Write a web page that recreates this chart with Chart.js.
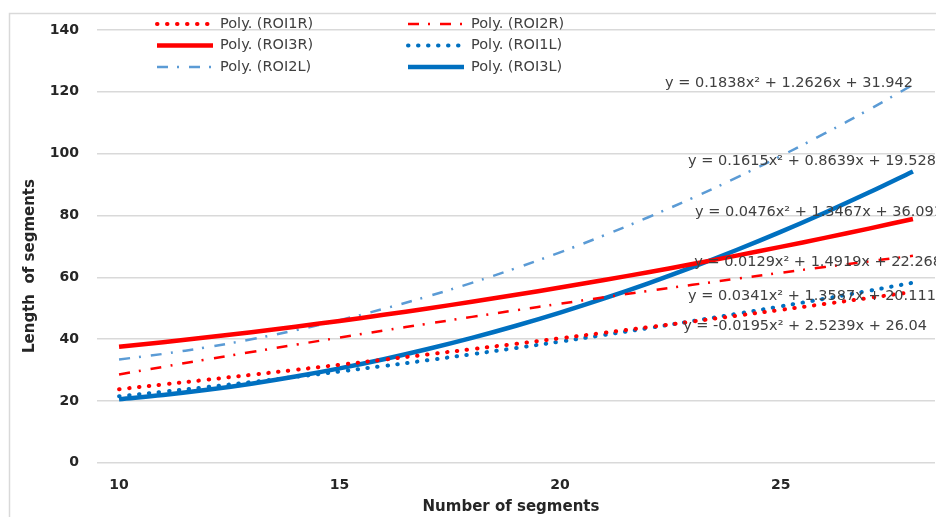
<!DOCTYPE html>
<html>
<head>
<meta charset="utf-8">
<script src="https://cdn.jsdelivr.net/npm/chart.js@4.4.1/dist/chart.umd.min.js"></script>
<style>
    html, body { margin: 0; padding: 0; background: #fff; }
    #contenedor { width: 936px; height: 517px; position: relative; }
</style>
</head>
<body>
<div id="contenedor"><canvas id="graficoSegmentos"></canvas></div>
<script>
// Número de segmentos (eje X) y longitudes de cada línea de tendencia
const segmentos = [10, 11, 12, 13, 14, 15, 16, 17, 18, 19, 20, 21, 22, 23, 24, 25, 26, 27, 28];
const roi1R = [23.77, 25.30, 26.86, 28.44, 30.05, 31.68, 33.34, 35.03, 36.74, 38.48, 40.24, 42.03, 43.84, 45.68, 47.55, 49.44, 51.36, 53.30, 55.27];
const roi2R = [28.54, 31.01, 33.44, 35.82, 38.17, 40.48, 42.75, 44.98, 47.18, 49.33, 51.44, 53.52, 55.56, 57.55, 59.51, 61.43, 63.31, 65.15, 66.95];
const roi3R = [37.49, 38.97, 40.56, 42.24, 44.01, 45.88, 47.85, 49.91, 52.07, 54.32, 56.66, 59.11, 61.64, 64.27, 67.00, 69.82, 72.74, 75.75, 78.86];
const roi1L = [21.50, 22.96, 24.49, 26.09, 27.76, 29.49, 31.29, 33.16, 35.10, 37.11, 39.18, 41.33, 43.54, 45.82, 48.16, 50.58, 53.06, 55.62, 58.24];
const roi2L = [33.39, 35.20, 37.38, 39.93, 42.85, 46.13, 49.79, 53.81, 58.19, 62.95, 68.07, 73.56, 79.42, 85.64, 92.24, 99.20, 106.52, 114.22, 122.28];
const roi3L = [20.55, 21.90, 23.57, 25.57, 27.89, 30.53, 33.49, 36.78, 40.38, 44.32, 48.57, 53.15, 58.05, 63.28, 68.82, 74.69, 80.89, 87.40, 94.24];

const ticksY = [0, 20, 40, 60, 80, 100, 120, 140];
const ticksX = [10, 15, 20, 25];

const nombres = ['Poly. (ROI1R)', 'Poly. (ROI2R)', 'Poly. (ROI3R)', 'Poly. (ROI1L)', 'Poly. (ROI2L)', 'Poly. (ROI3L)'];
const ecuaciones = [
    'y = 0.0129x² + 1.4919x + 22.268',
    'y = -0.0195x² + 2.5239x + 26.04',
    'y = 0.0476x² + 1.3467x + 36.091',
    'y = 0.0341x² + 1.3587x + 20.111',
    'y = 0.1838x² + 1.2626x + 31.942',
    'y = 0.1615x² + 0.8639x + 19.528'
];

const TITULO_X = 'Number of segments';
const TITULO_Y = 'Length  of segments';

const ROJO = '#FF0000';
const AZUL = '#0070C0';
const AZUL_CLARO = '#5B9BD5';
const GRIS = '#D9D9D9';
const TEXTO = '#404040';

// Ubicación de cada ecuación en unidades del gráfico (segmentos, longitud)
const posEcuaciones = [
    { x: 23.04, y: 65.0 },
    { x: 22.79, y: 44.0 },
    { x: 23.06, y: 80.9 },
    { x: 22.90, y: 53.9 },
    { x: 22.38, y: 122.9 },
    { x: 22.90, y: 97.4 }
];

function crearSerie(indice, datos, color, ancho, trazo, extremo) {
    return {
        label: nombres[indice],
        data: datos,
        borderColor: color,
        backgroundColor: color,
        borderWidth: ancho,
        borderDash: trazo,
        borderCapStyle: extremo,
        pointRadius: 0,
        pointHoverRadius: 0,
        tension: 0.4,
        fill: false
    };
}

const PUNTOS = [0.5, 9.5];
const RAYA_PUNTO = [11, 9, 2, 10];

const series = [
    crearSerie(0, roi1R, ROJO, 4, PUNTOS, 'round'),
    crearSerie(1, roi2R, ROJO, 2.5, RAYA_PUNTO, 'butt'),
    crearSerie(2, roi3R, ROJO, 4.5, [], 'butt'),
    crearSerie(3, roi1L, AZUL, 4, PUNTOS, 'round'),
    crearSerie(4, roi2L, AZUL_CLARO, 2.5, RAYA_PUNTO, 'butt'),
    crearSerie(5, roi3L, AZUL, 4.5, [], 'butt')
];

// Marco exterior gris (lados izquierdo y superior)
const pluginMarco = {
    id: 'marco',
    beforeDraw(chart) {
        const ctx = chart.ctx;
        ctx.save();
        ctx.strokeStyle = GRIS;
        ctx.lineWidth = 1.5;
        ctx.beginPath();
        ctx.moveTo(9.5, chart.height);
        ctx.lineTo(9.5, 13.5);
        ctx.lineTo(chart.width, 13.5);
        ctx.stroke();
        ctx.restore();
    }
};

// Ecuaciones de las líneas de tendencia sobre las curvas
const pluginEcuaciones = {
    id: 'ecuaciones',
    afterDatasetsDraw(chart) {
        const ctx = chart.ctx;
        const ejeX = chart.scales.x;
        const ejeY = chart.scales.y;
        ctx.save();
        ctx.font = '14.5px "DejaVu Sans"';
        ctx.fillStyle = TEXTO;
        ctx.textAlign = 'left';
        ctx.textBaseline = 'middle';
        ecuaciones.forEach((texto, i) => {
            const px = ejeX.getPixelForValue(posEcuaciones[i].x - segmentos[0]);
            const py = ejeY.getPixelForValue(posEcuaciones[i].y);
            ctx.fillText(texto, px, py);
        });
        ctx.restore();
    }
};

// Leyenda en dos columnas dentro del área superior
const pluginLeyenda = {
    id: 'leyendaColumnas',
    afterDraw(chart) {
        const ctx = chart.ctx;
        const columnas = [157, 408];
        const filas = [24, 45.5, 67];
        const largo = 56;
        ctx.save();
        ctx.font = '14.5px "DejaVu Sans"';
        ctx.textBaseline = 'middle';
        chart.data.datasets.forEach((ds, i) => {
            const x = columnas[i % 2];
            const y = filas[Math.floor(i / 2)];
            ctx.beginPath();
            ctx.strokeStyle = ds.borderColor;
            ctx.lineWidth = ds.borderWidth;
            ctx.lineCap = ds.borderCapStyle;
            ctx.setLineDash(ds.borderDash);
            ctx.moveTo(x, y);
            ctx.lineTo(x + largo, y);
            ctx.stroke();
            ctx.setLineDash([]);
            ctx.fillStyle = TEXTO;
            ctx.fillText(ds.label, x + largo + 7, y);
        });
        ctx.restore();
    }
};

// Títulos de los ejes
const pluginTitulos = {
    id: 'titulosEjes',
    afterDraw(chart) {
        const ctx = chart.ctx;
        ctx.save();
        ctx.font = 'bold 15px "DejaVu Sans"';
        ctx.fillStyle = '#262626';
        ctx.textAlign = 'center';
        ctx.textBaseline = 'middle';
        ctx.fillText(TITULO_X, 511, 507);
        ctx.translate(30, 266);
        ctx.rotate(-Math.PI / 2);
        ctx.fillText(TITULO_Y, 0, 0);
        ctx.restore();
    }
};

const fuenteTicks = { family: 'DejaVu Sans', size: 14, weight: 'bold' };

new Chart(document.getElementById('graficoSegmentos').getContext('2d'), {
    type: 'line',
    data: {
        labels: segmentos,
        datasets: series
    },
    options: {
        responsive: true,
        maintainAspectRatio: false,
        animation: false,
        events: [],
        layout: { padding: { top: 30, right: 1, bottom: 0, left: 0 } },
        plugins: {
            legend: { display: false },
            tooltip: { enabled: false }
        },
        scales: {
            x: {
                type: 'category',
                offset: true,
                grid: { display: false, drawTicks: false },
                border: { display: false },
                ticks: {
                    autoSkip: false,
                    maxRotation: 0,
                    padding: 14,
                    color: '#262626',
                    font: fuenteTicks
                },
                afterBuildTicks(eje) {
                    eje.ticks = ticksX.map(v => ({ value: segmentos.indexOf(v) }));
                },
                afterFit(eje) {
                    eje.height = 54.3;
                    eje.paddingLeft = 0;
                    eje.paddingRight = 0;
                }
            },
            y: {
                min: ticksY[0],
                max: ticksY[ticksY.length - 1],
                grid: { color: GRIS, lineWidth: 1.5, drawTicks: false },
                border: { display: false },
                ticks: {
                    padding: 18,
                    color: '#262626',
                    font: fuenteTicks
                },
                afterBuildTicks(eje) {
                    eje.ticks = ticksY.map(v => ({ value: v }));
                },
                afterFit(eje) {
                    eje.width = 97;
                    eje.paddingTop = 0;
                    eje.paddingBottom = 0;
                }
            }
        }
    },
    plugins: [pluginMarco, pluginEcuaciones, pluginLeyenda, pluginTitulos]
});
</script>
</body>
</html>
